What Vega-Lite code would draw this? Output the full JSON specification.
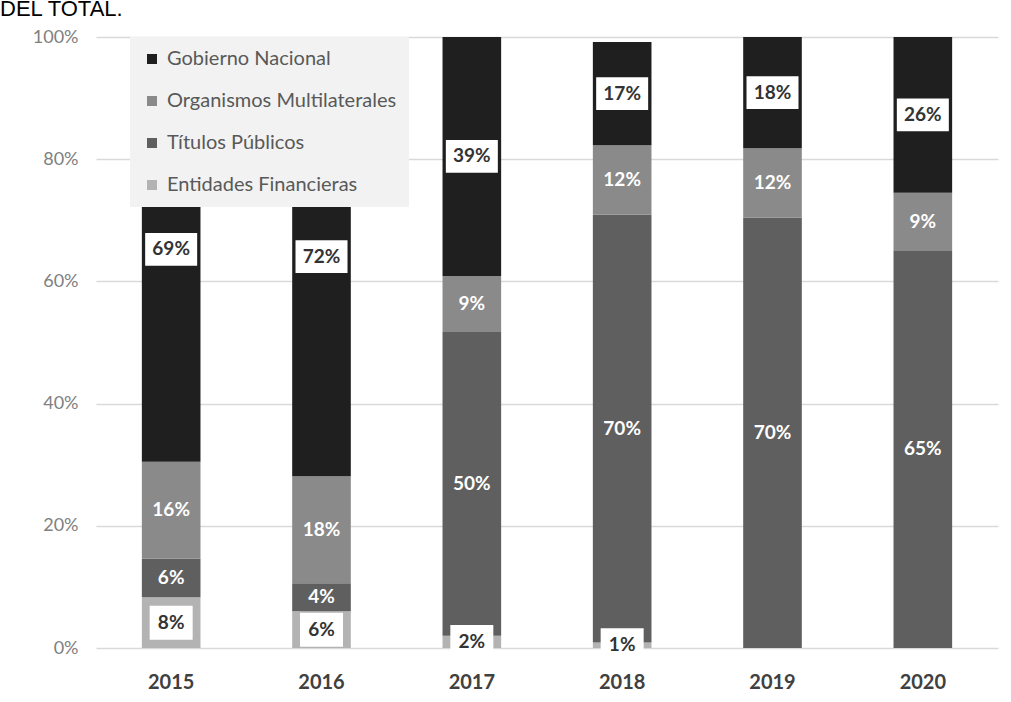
{
  "$schema": "https://vega.github.io/schema/vega-lite/v6.json",
  "width": 902,
  "height": 611,
  "autosize": {"type": "none"},
  "padding": {"left": 96, "top": 37, "right": 13, "bottom": 54},
  "background": "white",
  "config": {"view": {"stroke": null}},
  "title": {"text": "DEL TOTAL.", "anchor": "start", "frame": "group", "orient": "top", "fontSize": 22, "font": "Liberation Sans", "fontWeight": "normal", "color": "#000000", "dx": -96, "dy": 20, "offset": 10, "baseline": "alphabetic"},
  "data": {"values": [
    {"year": "2015", "cat": "Entidades Financieras", "value": 8.3, "label": "8%"},
    {"year": "2015", "cat": "Títulos Públicos", "value": 6.3, "label": "6%"},
    {"year": "2015", "cat": "Organismos Multilaterales", "value": 15.9, "label": "16%"},
    {"year": "2015", "cat": "Gobierno Nacional", "value": 69.5, "label": "69%"},
    {"year": "2016", "cat": "Entidades Financieras", "value": 6.0, "label": "6%"},
    {"year": "2016", "cat": "Títulos Públicos", "value": 4.6, "label": "4%"},
    {"year": "2016", "cat": "Organismos Multilaterales", "value": 17.5, "label": "18%"},
    {"year": "2016", "cat": "Gobierno Nacional", "value": 71.9, "label": "72%"},
    {"year": "2017", "cat": "Entidades Financieras", "value": 2.0, "label": "2%"},
    {"year": "2017", "cat": "Títulos Públicos", "value": 49.7, "label": "50%"},
    {"year": "2017", "cat": "Organismos Multilaterales", "value": 9.2, "label": "9%"},
    {"year": "2017", "cat": "Gobierno Nacional", "value": 39.1, "label": "39%"},
    {"year": "2018", "cat": "Entidades Financieras", "value": 0.9, "label": "1%"},
    {"year": "2018", "cat": "Títulos Públicos", "value": 70.0, "label": "70%"},
    {"year": "2018", "cat": "Organismos Multilaterales", "value": 11.4, "label": "12%"},
    {"year": "2018", "cat": "Gobierno Nacional", "value": 16.9, "label": "17%"},
    {"year": "2019", "cat": "Títulos Públicos", "value": 70.4, "label": "70%"},
    {"year": "2019", "cat": "Organismos Multilaterales", "value": 11.4, "label": "12%"},
    {"year": "2019", "cat": "Gobierno Nacional", "value": 18.2, "label": "18%"},
    {"year": "2020", "cat": "Títulos Públicos", "value": 65.1, "label": "65%"},
    {"year": "2020", "cat": "Organismos Multilaterales", "value": 9.4, "label": "9%"},
    {"year": "2020", "cat": "Gobierno Nacional", "value": 25.5, "label": "26%"}
  ]},
  "transform": [
    {"calculate": "indexof(['Entidades Financieras','Títulos Públicos','Organismos Multilaterales','Gobierno Nacional'], datum.cat)", "as": "ord"},
    {"stack": "value", "groupby": ["year"], "sort": [{"field": "ord", "order": "ascending"}], "as": ["v0", "v1"]},
    {"calculate": "(datum.v0 + datum.v1) / 2", "as": "mid"}
  ],
  "encoding": {
    "x": {"field": "year", "type": "ordinal", "scale": {"paddingInner": 0.61, "paddingOuter": 0.305},
      "axis": {"title": null, "domain": false, "ticks": false, "labelAngle": 0, "labelFont": "Lato", "labelFontSize": 20, "labelFontWeight": "bold", "labelColor": "#404040", "labelPadding": 24}}
  },
  "layer": [
    {
      "mark": {"type": "bar"},
      "encoding": {
        "y": {"field": "v0", "type": "quantitative", "scale": {"domain": [0, 100]},
          "axis": {"title": null, "values": [0, 20, 40, 60, 80, 100], "labelExpr": "datum.value + '%'", "domain": false, "ticks": false, "grid": true, "gridColor": "#d9d9d9", "gridWidth": 1.5, "labelFont": "Lato", "labelFontSize": 18, "labelColor": "#808080", "labelPadding": 18}},
        "y2": {"field": "v1"},
        "color": {"field": "cat", "type": "nominal",
          "scale": {"domain": ["Gobierno Nacional", "Organismos Multilaterales", "Títulos Públicos", "Entidades Financieras"], "range": ["#1f1f1f", "#8a8a8a", "#5f5f5f", "#b3b3b3"]},
          "legend": {"orient": "none", "legendX": 34, "legendY": 0, "title": null, "fillColor": "#f2f2f2", "padding": 12, "rowPadding": 22, "symbolType": "square", "symbolSize": 100, "symbolStrokeWidth": 0, "symbolOffset": 0, "labelOffset": 5, "labelFont": "Lato", "labelFontSize": 20, "labelColor": "#595959", "labelLimit": 400}}
      }
    },
    {
      "transform": [{"filter": "datum.cat === 'Gobierno Nacional'"}],
      "mark": {"type": "point", "shape": "M-1,-0.63H1V0.63H-1Z", "size": 2704, "filled": true, "color": "white", "opacity": 1, "strokeWidth": 0},
      "encoding": {"y": {"field": "mid", "type": "quantitative"}}
    },
    {
      "transform": [{"filter": "datum.cat === 'Entidades Financieras'"}],
      "mark": {"type": "point", "shape": "M-1,-0.79H1V0.79H-1Z", "size": 1849, "filled": true, "color": "white", "opacity": 1, "strokeWidth": 0},
      "encoding": {"y": {"field": "mid", "type": "quantitative"}}
    },
    {
      "transform": [{"filter": "datum.cat === 'Gobierno Nacional' || datum.cat === 'Entidades Financieras'"}],
      "mark": {"type": "text", "font": "Lato", "fontWeight": "bold", "fontSize": 19, "color": "#333333", "baseline": "middle"},
      "encoding": {"y": {"field": "mid", "type": "quantitative"}, "text": {"field": "label"}}
    },
    {
      "transform": [{"filter": "datum.cat === 'Organismos Multilaterales' || datum.cat === 'Títulos Públicos'"}],
      "mark": {"type": "text", "font": "Lato", "fontWeight": "bold", "fontSize": 19, "color": "#ffffff", "baseline": "middle"},
      "encoding": {"y": {"field": "mid", "type": "quantitative"}, "text": {"field": "label"}}
    }
  ]
}
